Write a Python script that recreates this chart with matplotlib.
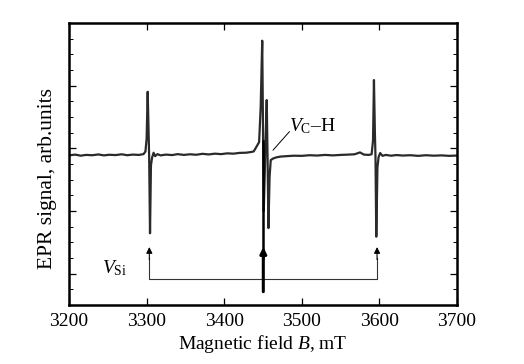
import matplotlib
matplotlib.use('Agg')
import matplotlib.pyplot as plt
from matplotlib.ticker import FixedLocator

plt.rcParams['font.family'] = ['Liberation Serif', 'DejaVu Serif']
plt.rcParams['mathtext.fontset'] = 'custom'
plt.rcParams['mathtext.rm'] = 'Liberation Serif'
plt.rcParams['mathtext.it'] = 'Liberation Serif:italic'

# EPR spectrum (field in mT, signal in arb. units)
field = [3200, 3208, 3215, 3222, 3230, 3238, 3245, 3252, 3260, 3268, 3275,
         3282, 3290, 3296, 3298.5, 3300, 3301.4, 3302.5, 3303.3, 3304.4,
         3305.6, 3307, 3309, 3311, 3314, 3318, 3325, 3333, 3340, 3348,
         3356, 3364, 3372, 3380, 3388, 3396, 3404, 3412, 3420, 3428, 3434,
         3438, 3441, 3445, 3447, 3449, 3451, 3453, 3454.8, 3456,
         3457, 3458.5, 3460, 3463, 3467, 3472, 3480, 3490, 3500, 3510,
         3520, 3530, 3540, 3550, 3560, 3568, 3575, 3580, 3586, 3590,
         3591.8, 3593, 3594.2, 3595, 3596, 3597.5, 3599, 3601, 3604, 3608,
         3615, 3622, 3630, 3640, 3650, 3660, 3670, 3680, 3690, 3700]
signal = [9.55, 9.60, 9.53, 9.58, 9.56, 9.61, 9.55, 9.59, 9.57, 9.62, 9.56,
          9.60, 9.58, 9.63, 9.80, 10.6, 13.61, 11.2, 9.4, 4.58,
          8.9, 9.40, 9.72, 9.50, 9.63, 9.55, 9.60, 9.57, 9.63, 9.58,
          9.62, 9.59, 9.65, 9.61, 9.66, 9.63, 9.68, 9.66, 9.71, 9.72, 9.76,
          9.80, 10.05, 10.4, 12.6, 16.87, 6.0, 9.8, 13.08, 9.0,
          4.91, 8.2, 9.25, 9.35, 9.42, 9.47, 9.50, 9.53, 9.52, 9.56,
          9.54, 9.58, 9.55, 9.58, 9.60, 9.62, 9.74, 9.60, 9.58, 9.62,
          10.5, 14.36, 11.0, 9.4, 4.36, 8.8, 9.45, 9.70, 9.52, 9.58,
          9.53, 9.57, 9.54, 9.56, 9.52, 9.56, 9.53, 9.55, 9.52, 9.54]

vsi_fields = [3303.5, 3597]
vch_field = 3450.4

fig = plt.figure(figsize=(5.24, 3.64), dpi=100)
ax = fig.add_axes([0.1317, 0.1621, 0.7404, 0.7747])

ax.plot(field, signal, color='#2a2a2a', linewidth=1.6)

# V_Si bracket with arrows
ax.plot([vsi_fields[0], vsi_fields[0], vsi_fields[1], vsi_fields[1]],
        [3.0, 1.64, 1.64, 3.0], color='#333333', linewidth=0.8)
for x in vsi_fields:
    ax.annotate('', xy=(x, 3.7), xytext=(x, 2.9),
                arrowprops=dict(arrowstyle='-|>', color='k', lw=0.8,
                                mutation_scale=9, shrinkA=0, shrinkB=0))
# V_C-H arrow
ax.annotate('', xy=(vch_field, 3.7), xytext=(vch_field, 0.85),
            arrowprops=dict(arrowstyle='-|>', color='k', lw=2.2,
                            mutation_scale=9, shrinkA=0, shrinkB=0))
ax.plot([vch_field, vch_field], [3.0, 10.5], color='k', linewidth=1.8)

ax.text(3242, 2.36, r'$V_{\rm Si}$', fontsize=14, va='center', ha='left')
ax.text(3484, 11.4, r'$V_{\rm C}$–H', fontsize=14, va='center', ha='left')
ax.plot([3484, 3463], [11.06, 9.89], color='k', linewidth=0.7)

ax.set_xlim(3200, 3700)
ax.set_ylim(0, 18)
ax.set_xticks([3200, 3300, 3400, 3500, 3600, 3700])
ax.yaxis.set_major_locator(FixedLocator([2, 6, 10, 14]))
ax.yaxis.set_minor_locator(FixedLocator([1, 3, 4, 5, 7, 8, 9, 11, 12, 13, 15, 16, 17]))
ax.tick_params(axis='both', which='both', direction='in', top=True, right=True,
               labelleft=False)
ax.tick_params(axis='x', which='major', length=5, width=0.9, labelsize=14, pad=6)
ax.tick_params(axis='y', which='major', length=5, width=0.9)
ax.tick_params(axis='y', which='minor', length=3, width=0.7)
for s in ax.spines.values():
    s.set_linewidth(1.8)

ax.set_xlabel(r'Magnetic field $B$, mT', fontsize=14, labelpad=2)
ax.set_ylabel('EPR signal, arb.units', fontsize=15.5)
ax.yaxis.set_label_coords(-0.032, 0.45)

fig.savefig('out.png', dpi=100)
